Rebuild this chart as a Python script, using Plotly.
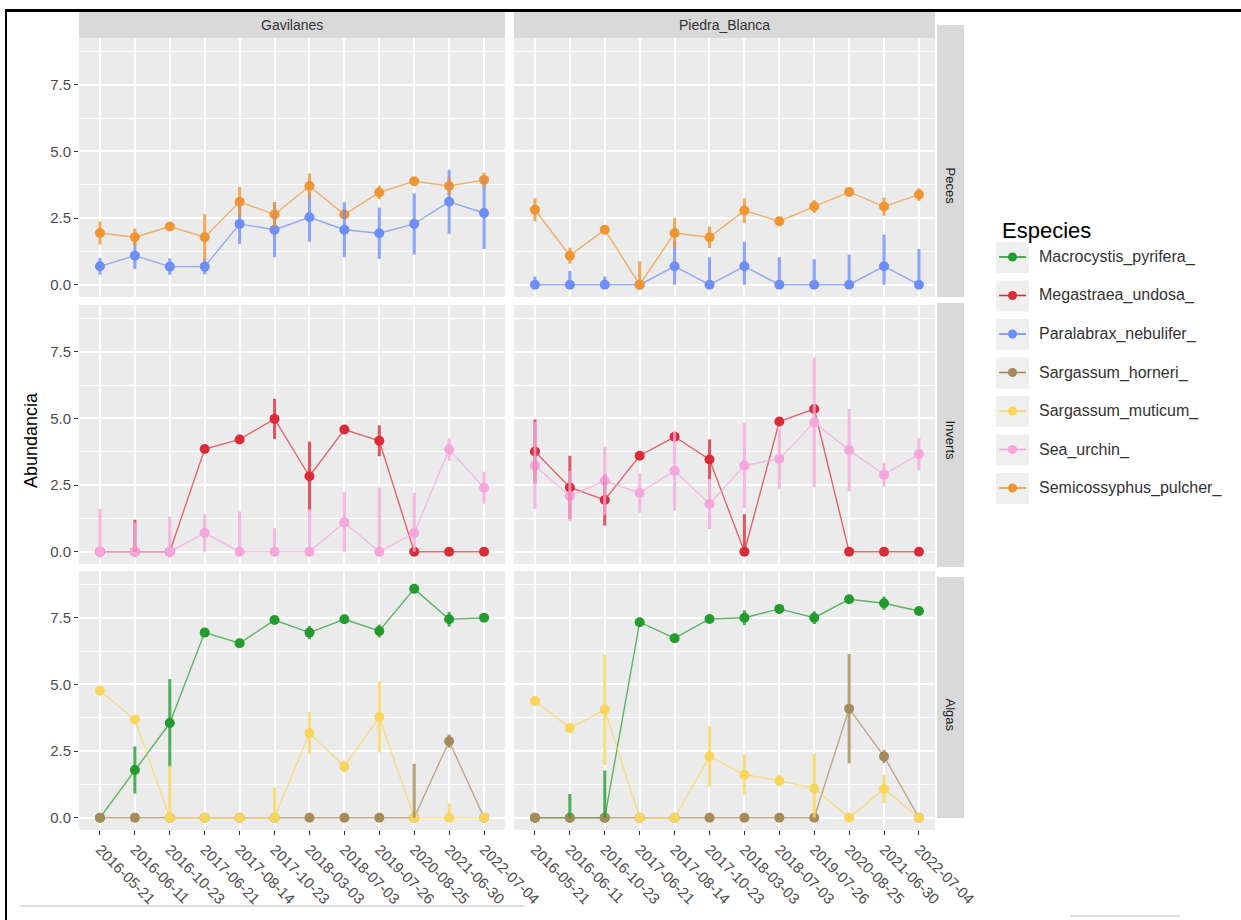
import plotly.graph_objects as go

W, H = 1241, 920

# ---- data -----------------------------------------------------------------
fechas = ["2016-05-21", "2016-06-11", "2016-10-23", "2017-06-21", "2017-08-14",
          "2017-10-23", "2018-03-03", "2018-07-03", "2019-07-26", "2020-08-25",
          "2021-06-30", "2022-07-04"]
sitios = ["Gavilanes", "Piedra_Blanca"]
grupos = ["Peces", "Inverts", "Algas"]
especies = ["Macrocystis_pyrifera_", "Megastraea_undosa_", "Paralabrax_nebulifer_",
            "Sargassum_horneri_", "Sargassum_muticum_", "Sea_urchin_",
            "Semicossyphus_pulcher_"]
colores = ["#239B2F", "#DA2C38", "#6E8EF7", "#A68A5B", "#F9D65B", "#F5A6DD", "#EF9532"]

# Gavilanes - Peces
gav_paralabrax = [0.69, 1.09, 0.68, 0.68, 2.28, 2.06, 2.53, 2.06, 1.93, 2.28, 3.11, 2.69]
gav_paralabrax_se = [0.31, 0.50, 0.31, 0.29, 0.75, 1.03, 0.92, 1.03, 0.96, 1.15, 1.20, 1.35]
gav_semicossyphus = [1.94, 1.78, 2.18, 1.78, 3.11, 2.63, 3.70, 2.63, 3.46, 3.88, 3.70, 3.93]
gav_semicossyphus_se = [0.43, 0.33, 0.00, 0.87, 0.56, 0.47, 0.47, 0.00, 0.25, 0.00, 0.33, 0.27]
# Piedra_Blanca - Peces
pb_paralabrax = [0.00, 0.00, 0.00, 0.00, 0.69, 0.00, 0.69, 0.00, 0.00, 0.00, 0.69, 0.00]
pb_paralabrax_se = [0.31, 0.52, 0.31, 0.00, 0.96, 1.03, 0.92, 1.03, 0.96, 1.13, 1.19, 1.34]
pb_semicossyphus = [2.81, 1.09, 2.06, 0.00, 1.94, 1.78, 2.78, 2.38, 2.93, 3.48, 2.93, 3.38]
pb_semicossyphus_se = [0.43, 0.30, 0.00, 0.88, 0.56, 0.40, 0.46, 0.00, 0.24, 0.00, 0.34, 0.24]

# Gavilanes - Inverts
gav_megastraea = [0.00, 0.00, 0.00, 3.85, 4.21, 4.98, 2.83, 4.58, 4.16, 0.00, 0.00, 0.00]
gav_megastraea_se = [0.00, 1.20, 0.00, 0.00, 0.00, 0.75, 1.30, 0.00, 0.58, 0.00, 0.00, 0.00]
gav_sea_urchin = [0.00, 0.00, 0.00, 0.70, 0.00, 0.00, 0.00, 1.10, 0.00, 0.70, 3.83, 2.40]
gav_sea_urchin_se = [1.60, 1.10, 1.31, 0.70, 1.51, 0.88, 1.60, 1.13, 2.41, 1.51, 0.42, 0.60]
# Piedra_Blanca - Inverts
pb_megastraea = [3.76, 2.41, 1.94, 3.60, 4.31, 3.46, 0.00, 4.88, 5.35, 0.00, 0.00, 0.00]
pb_megastraea_se = [1.20, 1.19, 0.96, 0.00, 0.15, 0.75, 1.41, 0.00, 0.15, 0.00, 0.00, 0.00]
pb_sea_urchin = [3.23, 2.08, 2.66, 2.20, 3.04, 1.79, 3.23, 3.48, 4.85, 3.81, 2.89, 3.66]
pb_sea_urchin_se = [1.63, 0.94, 1.28, 0.74, 1.50, 0.94, 1.60, 1.12, 2.43, 1.54, 0.45, 0.60]

# Gavilanes - Algas
gav_macrocystis = [0.00, 1.79, 3.55, 6.94, 6.54, 7.41, 6.94, 7.44, 7.00, 8.58, 7.44, 7.50]
gav_macrocystis_se = [0.00, 0.88, 1.65, 0.00, 0.00, 0.00, 0.25, 0.12, 0.24, 0.00, 0.28, 0.00]
gav_s_horneri = [0.00, 0.00, 0.00, 0.00, 0.00, 0.00, 0.00, 0.00, 0.00, 0.00, 2.87, 0.00]
gav_s_horneri_se = [0.00, 0.00, 0.00, 0.00, 0.00, 0.00, 0.00, 0.00, 0.00, 2.02, 0.25, 0.00]
gav_s_muticum = [4.76, 3.68, 0.00, 0.00, 0.00, 0.00, 3.17, 1.92, 3.78, 0.00, 0.00, 0.00]
gav_s_muticum_se = [0.00, 0.00, 1.96, 0.00, 0.00, 1.14, 0.79, 0.22, 1.33, 0.00, 0.54, 0.00]
# Piedra_Blanca - Algas
pb_macrocystis = [0.00, 0.00, 0.00, 7.33, 6.73, 7.45, 7.50, 7.83, 7.50, 8.19, 8.04, 7.75]
pb_macrocystis_se = [0.00, 0.89, 1.77, 0.00, 0.00, 0.00, 0.28, 0.00, 0.24, 0.00, 0.25, 0.00]
pb_s_horneri = [0.00, 0.00, 0.00, 0.00, 0.00, 0.00, 0.00, 0.00, 0.00, 4.09, 2.30, 0.00]
pb_s_horneri_se = [0.00, 0.00, 0.00, 0.00, 0.00, 0.00, 0.00, 0.00, 0.00, 2.05, 0.25, 0.00]
pb_s_muticum = [4.38, 3.36, 4.05, 0.00, 0.00, 2.30, 1.61, 1.39, 1.10, 0.00, 1.08, 0.00]
pb_s_muticum_se = [0.00, 0.00, 2.07, 0.00, 0.00, 1.13, 0.77, 0.22, 1.30, 0.00, 0.53, 0.00]

paneles = {
    ("Peces", "Gavilanes"): [(2, gav_paralabrax, gav_paralabrax_se),
                             (6, gav_semicossyphus, gav_semicossyphus_se)],
    ("Peces", "Piedra_Blanca"): [(2, pb_paralabrax, pb_paralabrax_se),
                                 (6, pb_semicossyphus, pb_semicossyphus_se)],
    ("Inverts", "Gavilanes"): [(1, gav_megastraea, gav_megastraea_se),
                               (5, gav_sea_urchin, gav_sea_urchin_se)],
    ("Inverts", "Piedra_Blanca"): [(1, pb_megastraea, pb_megastraea_se),
                                   (5, pb_sea_urchin, pb_sea_urchin_se)],
    ("Algas", "Gavilanes"): [(0, gav_macrocystis, gav_macrocystis_se),
                             (3, gav_s_horneri, gav_s_horneri_se),
                             (4, gav_s_muticum, gav_s_muticum_se)],
    ("Algas", "Piedra_Blanca"): [(0, pb_macrocystis, pb_macrocystis_se),
                                 (3, pb_s_horneri, pb_s_horneri_se),
                                 (4, pb_s_muticum, pb_s_muticum_se)],
}

# ---- geometry (pixels) ----------------------------------------------------
col_px = [(79, 505), (514, 935)]
col_range = [[-0.6, 11.6], [-0.6, 11.46]]
row_px = [(38, 297), (305, 564), (571, 830)]
y_range = [-0.46, 9.25]


def fx(px):
    return px / W


def fy(py):
    return 1 - py / H


def rgba(hexc, a):
    h = hexc.lstrip("#")
    r, g, b = int(h[0:2], 16), int(h[2:4], 16), int(h[4:6], 16)
    return f"rgba({r},{g},{b},{a})"


fig = go.Figure()
layout = dict()
font = "Liberation Sans, Arial, sans-serif"

for r, grupo in enumerate(grupos):
    for c, sitio in enumerate(sitios):
        k = r * 2 + c + 1
        sfx = "" if k == 1 else str(k)
        xa, ya = "x" + sfx, "y" + sfx
        layout["xaxis" + sfx] = dict(
            domain=[fx(col_px[c][0]), fx(col_px[c][1])], anchor=ya,
            type="category", categoryorder="array", categoryarray=fechas,
            range=col_range[c], automargin=False,
            showgrid=True, gridcolor="white", gridwidth=2,
            zeroline=False, showline=False,
            ticks="outside" if r == 2 else "", ticklen=4, tickwidth=1, tickcolor="#333333",
            showticklabels=(r == 2), tickangle=45,
            tickfont=dict(family=font, size=15, color="#4d4d4d"),
        )
        layout["yaxis" + sfx] = dict(
            domain=[fy(row_px[r][1]), fy(row_px[r][0])], anchor=xa,
            range=y_range, automargin=False,
            tickmode="array", tickvals=[0, 2.5, 5, 7.5],
            ticktext=["0.0", "2.5", "5.0", "7.5"],
            showgrid=True, gridcolor="white", gridwidth=2, zeroline=False, showline=False,
            ticks="outside" if c == 0 else "", ticklen=4, tickwidth=1, tickcolor="#333333",
            showticklabels=(c == 0),
            tickfont=dict(family=font, size=15, color="#4d4d4d"),
            minor=dict(tickvals=[1.25, 3.75, 6.25, 8.75], showgrid=True,
                       gridcolor="white", gridwidth=1, ticks=""),
        )

        series = paneles[(grupo, sitio)]
        # connecting lines
        for sp, vals, se in series:
            fig.add_trace(go.Scatter(
                x=fechas, y=vals, mode="lines", xaxis=xa, yaxis=ya,
                line=dict(color=rgba(colores[sp], 0.7), width=1.4),
                showlegend=False, hoverinfo="skip"))
        # points
        for sp, vals, se in series:
            fig.add_trace(go.Scatter(
                x=fechas, y=vals, mode="markers", xaxis=xa, yaxis=ya,
                marker=dict(color=colores[sp], size=10, line=dict(width=0)),
                name=especies[sp], showlegend=False))
        # error bars as vertical segments
        for sp, vals, se in series:
            ex, ey = [], []
            for f, v, e in zip(fechas, vals, se):
                if e > 0:
                    ex += [f, f, None]
                    ey += [max(0.0, v - e), v + e, None]
            if ex:
                fig.add_trace(go.Scatter(
                    x=ex, y=ey, mode="lines", xaxis=xa, yaxis=ya,
                    line=dict(color=rgba(colores[sp], 0.8), width=3),
                    showlegend=False, hoverinfo="skip"))

shapes = []
annotations = []

# column strips
for c, sitio in enumerate(sitios):
    x0, x1 = col_px[c]
    shapes.append(dict(type="rect", xref="paper", yref="paper",
                       x0=fx(x0), x1=fx(x1), y0=fy(38), y1=fy(12),
                       fillcolor="#d9d9d9", line=dict(width=0)))
    annotations.append(dict(text=sitio, xref="paper", yref="paper",
                            x=fx((x0 + x1) / 2), y=fy(25), showarrow=False,
                            xanchor="center", yanchor="middle",
                            font=dict(family=font, size=14, color="#333333")))

# row strips
row_strip_px = [(25, 297, 186), (303, 567, 441), (577, 818, 715)]
for grupo, (t, b, ly) in zip(grupos, row_strip_px):
    shapes.append(dict(type="rect", xref="paper", yref="paper",
                       x0=fx(937), x1=fx(964), y0=fy(b), y1=fy(t),
                       fillcolor="#d9d9d9", line=dict(width=0)))
    annotations.append(dict(text=grupo, xref="paper", yref="paper",
                            x=fx(950.5), y=fy(ly), showarrow=False, textangle=90,
                            xanchor="center", yanchor="middle",
                            font=dict(family=font, size=13, color="#1a1a1a")))

# y axis title
annotations.append(dict(text="Abundancia", xref="paper", yref="paper",
                        x=fx(31), y=fy(440), showarrow=False, textangle=-90,
                        xanchor="center", yanchor="middle",
                        font=dict(family=font, size=18, color="#000000")))

# legend
annotations.append(dict(text="Especies", xref="paper", yref="paper",
                        x=fx(1000), y=fy(231), showarrow=False,
                        xanchor="left", yanchor="middle",
                        font=dict(family=font, size=22, color="#000000")))
for i, (nombre, col) in enumerate(zip(especies, colores)):
    cy = 257 + i * 38.5
    shapes.append(dict(type="rect", xref="paper", yref="paper",
                       x0=fx(996), x1=fx(1029), y0=fy(cy + 16), y1=fy(cy - 15),
                       fillcolor="#efefef", line=dict(width=0)))
    shapes.append(dict(type="line", xref="paper", yref="paper",
                       x0=fx(999), x1=fx(1026), y0=fy(cy), y1=fy(cy),
                       line=dict(color=col, width=1.6)))
    shapes.append(dict(type="circle", xref="paper", yref="paper",
                       x0=fx(1012.5 - 4.5), x1=fx(1012.5 + 4.5),
                       y0=fy(cy + 4.5), y1=fy(cy - 4.5),
                       fillcolor=col, line=dict(width=0)))
    annotations.append(dict(text=nombre, xref="paper", yref="paper",
                            x=fx(1037), y=fy(cy), showarrow=False,
                            xanchor="left", yanchor="middle",
                            font=dict(family=font, size=16, color="#333333")))

# frame lines around the image
shapes.append(dict(type="line", xref="paper", yref="paper",
                   x0=fx(5), x1=fx(W), y0=fy(10.5), y1=fy(10.5),
                   line=dict(color="#000000", width=3)))
shapes.append(dict(type="line", xref="paper", yref="paper",
                   x0=fx(6), x1=fx(6), y0=fy(9), y1=fy(H),
                   line=dict(color="#000000", width=2)))
shapes.append(dict(type="line", xref="paper", yref="paper",
                   x0=fx(20), x1=fx(525), y0=fy(906), y1=fy(906),
                   line=dict(color="#dddddd", width=2)))
shapes.append(dict(type="line", xref="paper", yref="paper",
                   x0=fx(1070), x1=fx(1180), y0=fy(916), y1=fy(916),
                   line=dict(color="#dddddd", width=2)))

layout.update(
    template="none",
    width=W, height=H, autosize=False,
    margin=dict(l=0, r=0, t=0, b=0, pad=0, autoexpand=False),
    paper_bgcolor="white", plot_bgcolor="#ebebeb",
    showlegend=False, shapes=shapes, annotations=annotations,
    font=dict(family=font),
)
fig.update_layout(**layout)
fig.write_html("out.html", config=dict(responsive=False, displayModeBar=False))
